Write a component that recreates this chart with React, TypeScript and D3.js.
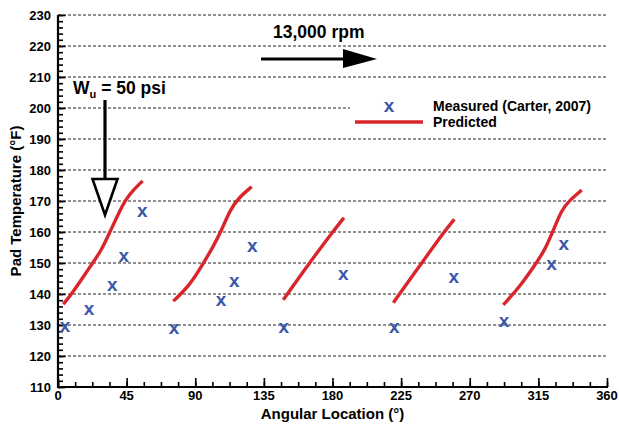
import React, { useRef, useEffect } from "react";
import * as d3 from "d3";

// measured pad temperatures (Carter, 2007)
const measuredAngle = [4.6, 20.3, 35.6, 43.1, 55.3, 76.1, 106.9, 115.6, 127.4, 148, 187.1, 220.5, 259.5, 292.5, 323.7, 331.6];
const measuredTemp = [129.4, 134.8, 142.7, 151.9, 166.5, 128.6, 137.7, 144, 155.3, 129.1, 146.1, 129.1, 145.2, 131, 149.4, 155.8];

// predicted, one segment per pad
const predictedAngle = [
  [3.5, 10, 21, 28.7, 34.1, 40.7, 45, 49.4, 55.5],
  [75.6, 86.6, 95.3, 101.8, 107.3, 112.8, 118.2, 127],
  [147.7, 164.8, 180.1, 187.5],
  [219.9, 238.5, 253.1, 259.9],
  [292, 302.9, 312.8, 319.3, 324.8, 330.3, 334.6, 343.4],
];
const predictedTemp = [
  [136.7, 140.7, 148.8, 154.2, 160.1, 167.1, 170.9, 173.5, 176.5],
  [137.7, 142.9, 149.9, 155.3, 160.6, 167.1, 170.9, 174.6],
  [138.1, 150, 160, 164.6],
  [137.2, 150, 160, 164.1],
  [136.5, 142.4, 149.4, 154.2, 160.6, 167.1, 169.8, 173.5],
];

const xTicks = [0, 45, 90, 135, 180, 225, 270, 315, 360];
const yTicks = [110, 120, 130, 140, 150, 160, 170, 180, 190, 200, 210, 220, 230];

const BLUE = "#3b58a8";
const RED = "#d9262b";
const FONT = "'Liberation Sans', Arial, sans-serif";

export default function App() {
  const ref = useRef<SVGSVGElement>(null);

  const width = 619;
  const height = 428;
  const margin = { top: 15, right: 12, bottom: 41, left: 58 };

  const x = d3.scaleLinear().domain([0, 360]).range([margin.left, width - margin.right]);
  const y = d3.scaleLinear().domain([110, 230]).range([height - margin.bottom, margin.top]);

  useEffect(() => {
    const vis = d3.select(ref.current);
    vis.selectAll("*").remove();

    // gridlines
    vis
      .append("g")
      .selectAll("line")
      .data(yTicks.filter((t) => t > 110))
      .join("line")
      .attr("x1", x(0))
      .attr("x2", x(360))
      .attr("y1", (d) => y(d))
      .attr("y2", (d) => y(d))
      .attr("stroke", "#222")
      .attr("stroke-width", 1)
      .attr("stroke-dasharray", "3,2");

    // axes (ticks inside)
    const xAxis = vis.append("g").attr("transform", `translate(0, ${y(110)})`);
    xAxis
      .append("g")
      .call(d3.axisTop(x).tickValues(d3.range(0, 361, 11.25)).tickSize(5).tickFormat(() => ""))
      .call((g) => g.select(".domain").remove());
    xAxis
      .append("g")
      .call(d3.axisTop(x).tickValues(xTicks).tickSize(9).tickFormat(() => ""))
      .call((g) => g.select(".domain").remove());
    xAxis.selectAll("line").attr("stroke", "#000").attr("stroke-width", 1.6);
    xAxis
      .append("line")
      .attr("x1", x(0) - 1)
      .attr("x2", x(360) + 1)
      .attr("stroke", "#000")
      .attr("stroke-width", 2.2);
    xAxis
      .selectAll("text.lbl")
      .data(xTicks)
      .join("text")
      .attr("class", "lbl")
      .attr("x", (d) => x(d))
      .attr("y", 13)
      .attr("text-anchor", "middle")
      .attr("font-family", FONT)
      .attr("font-weight", "bold")
      .attr("font-size", 13)
      .text((d) => d);

    const yAxis = vis.append("g").attr("transform", `translate(${x(0)}, 0)`);
    yAxis
      .append("g")
      .call(d3.axisRight(y).tickValues(d3.range(110, 231, 2)).tickSize(5).tickFormat(() => ""))
      .call((g) => g.select(".domain").remove());
    yAxis
      .append("g")
      .call(d3.axisRight(y).tickValues(yTicks).tickSize(7.5).tickFormat(() => ""))
      .call((g) => g.select(".domain").remove());
    yAxis.selectAll("line").attr("stroke", "#000").attr("stroke-width", 1.6);
    yAxis
      .append("line")
      .attr("y1", y(230))
      .attr("y2", y(110) + 1)
      .attr("stroke", "#000")
      .attr("stroke-width", 2.2);
    yAxis
      .selectAll("text.lbl")
      .data(yTicks)
      .join("text")
      .attr("class", "lbl")
      .attr("x", -7)
      .attr("y", (d) => y(d))
      .attr("dy", "0.36em")
      .attr("text-anchor", "end")
      .attr("font-family", FONT)
      .attr("font-weight", "bold")
      .attr("font-size", 13)
      .text((d) => d);

    // axis titles
    vis
      .append("text")
      .attr("x", (x(0) + x(360)) / 2)
      .attr("y", 419)
      .attr("text-anchor", "middle")
      .attr("font-family", FONT)
      .attr("font-weight", "bold")
      .attr("font-size", 15)
      .text("Angular Location (°)");
    vis
      .append("text")
      .attr("transform", `translate(21, ${(y(110) + y(230)) / 2}) rotate(-90)`)
      .attr("text-anchor", "middle")
      .attr("font-family", FONT)
      .attr("font-weight", "bold")
      .attr("font-size", 15)
      .text("Pad Temperature (°F)");

    // predicted lines
    const segs = predictedAngle.map((a, i) => a.map((v, j) => [x(v), y(predictedTemp[i][j])] as [number, number]));
    const line = d3.line().curve(d3.curveBasis);
    vis
      .append("g")
      .selectAll("path")
      .data(segs)
      .join("path")
      .attr("d", (d) => line(d))
      .attr("fill", "none")
      .attr("stroke", RED)
      .attr("stroke-width", 3.4)
      .attr("stroke-linecap", "butt");

    // measured points
    vis
      .append("g")
      .selectAll("text")
      .data(measuredAngle)
      .join("text")
      .attr("x", (d) => x(d))
      .attr("y", (d, i) => y(measuredTemp[i]))
      .attr("dy", "0.27em")
      .attr("text-anchor", "middle")
      .attr("font-family", FONT)
      .attr("font-weight", "bold")
      .attr("font-size", 19)
      .attr("fill", BLUE)
      .text("x");

    // legend
    const lg = vis.append("g");
    lg.append("rect").attr("x", 350).attr("y", 95).attr("width", 262).attr("height", 36).attr("fill", "#fff");
    lg.append("text")
      .attr("x", 389)
      .attr("y", 107)
      .attr("dy", "0.27em")
      .attr("text-anchor", "middle")
      .attr("font-family", FONT)
      .attr("font-weight", "bold")
      .attr("font-size", 19)
      .attr("fill", BLUE)
      .text("x");
    lg.append("line").attr("x1", 355).attr("x2", 423).attr("y1", 122).attr("y2", 122).attr("stroke", RED).attr("stroke-width", 3.4);
    lg.append("text")
      .attr("x", 433)
      .attr("y", 111)
      .attr("font-family", FONT)
      .attr("font-weight", "bold")
      .attr("font-size", 14)
      .text("Measured (Carter, 2007)");
    lg.append("text")
      .attr("x", 433)
      .attr("y", 127)
      .attr("font-family", FONT)
      .attr("font-weight", "bold")
      .attr("font-size", 14)
      .text("Predicted");

    // rotation arrow
    const rpm = vis.append("g");
    rpm
      .append("text")
      .attr("x", 273)
      .attr("y", 38)
      .attr("font-family", FONT)
      .attr("font-weight", "bold")
      .attr("font-size", 17.5)
      .text("13,000 rpm");
    rpm.append("line").attr("x1", 261).attr("x2", 345).attr("y1", 59).attr("y2", 59).attr("stroke", "#000").attr("stroke-width", 3.2);
    rpm.append("path").attr("d", "M343,49 L377,59 L343,68 Z").attr("fill", "#000");

    // load arrow
    const load = vis.append("g");
    const wt = load
      .append("text")
      .attr("x", 73)
      .attr("y", 94)
      .attr("font-family", FONT)
      .attr("font-weight", "bold")
      .attr("font-size", 17.5);
    wt.append("tspan").text("W");
    wt.append("tspan").attr("font-size", 11).attr("dy", 4).text("u");
    wt.append("tspan").attr("dy", -4).text(" = 50 psi");
    load.append("line").attr("x1", 105).attr("x2", 105).attr("y1", 100).attr("y2", 180).attr("stroke", "#000").attr("stroke-width", 3.2);
    load
      .append("path")
      .attr("d", "M92.5,179 L117.5,179 L105,215 Z")
      .attr("fill", "#fff")
      .attr("stroke", "#000")
      .attr("stroke-width", 2.6)
      .attr("stroke-linejoin", "miter");
  }, []);

  return (
    <svg
      width={width}
      height={height}
      ref={ref}
      style={{ position: "absolute", left: 0, top: 0, background: "#fff" }}
    ></svg>
  );
}
